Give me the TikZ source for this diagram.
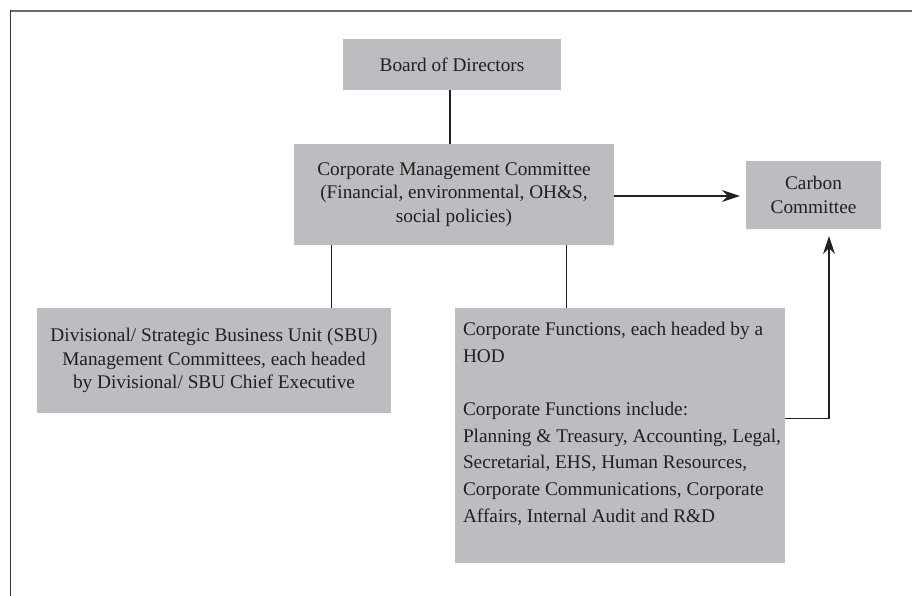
\documentclass[tikz,border=0pt]{standalone}
\usepackage{fontspec}
\setmainfont{Liberation Serif}
\usetikzlibrary{arrows.meta}
\definecolor{boxgray}{HTML}{BCBDC1}
\definecolor{ink}{HTML}{231F20}
\begin{document}
\begin{tikzpicture}[x=1pt,y=-1pt,
  box/.style={fill=boxgray, draw=none, inner sep=0pt, text=ink,
    font=\fontsize{19.3}{23.3}\selectfont, align=center},
  link/.style={draw=ink, line width=1.3pt},
  arrowlink/.style={link, -{Stealth[length=18pt,width=12pt,inset=6pt]}}]
\useasboundingbox (0,0) rectangle (912,596);

% outer frame (top and left edges)
\draw[draw=gray!85!black, line width=1.6pt] (10,10.8) -- (912,10.8);
\draw[draw=ink!90, line width=1.3pt] (10.7,10) -- (10.7,596);

% boxes
\node[box, minimum width=218pt, minimum height=51pt] (board) at (452,64.5)
  {Board of Directors};
\node[box, minimum width=320pt, minimum height=101pt] (cmc) at (454,194.5)
  {Corporate Management Committee\\(Financial, environmental, OH\&S,\\social policies)};
\node[box, minimum width=135pt, minimum height=68pt] (carbon) at (813.5,195)
  {Carbon\\Committee};
\node[box, minimum width=354pt, minimum height=105pt] (div) at (214,360.5)
  {Divisional/ Strategic Business Unit (SBU)\\Management Committees, each headed\\by Divisional/ SBU Chief Executive};
\node[box, minimum width=330pt, minimum height=255pt] (cf) at (620,435.5) {};
\node[text=ink, inner sep=0pt, anchor=north west, align=left,
  font=\fontsize{19.3}{26.7}\selectfont] (cftext) at ([xshift=8pt,yshift=-14pt]cf.north west)
  {Corporate Functions, each headed by a\\HOD\\[26.7pt]%
   Corporate Functions include:\\Planning \& Treasury, Accounting, Legal,\\%
   Secretarial, EHS, Human Resources,\\Corporate Communications, Corporate\\%
   Affairs, Internal Audit and R\&D};

% connectors
\draw[link] ([xshift=-2pt]board.south) -- ([xshift=-2pt]board.south |- cmc.north);
\draw[link] ([xshift=38pt]cmc.south west) -- ([xshift=38pt]cmc.south west |- div.north);
\draw[link] ([xshift=112pt]cf.north west) -- ([xshift=112pt]cf.north west |- cmc.south);
\draw[arrowlink, shorten >=6pt] ([yshift=-1.5pt]cmc.east) -- ([yshift=-1.5pt]cmc.east -| carbon.west);
\coordinate (cfout) at ([yshift=-111pt]cf.north east);
\draw[arrowlink, shorten >=7pt] (cfout) -| ([xshift=15.5pt]carbon.south);
\end{tikzpicture}
\end{document}
